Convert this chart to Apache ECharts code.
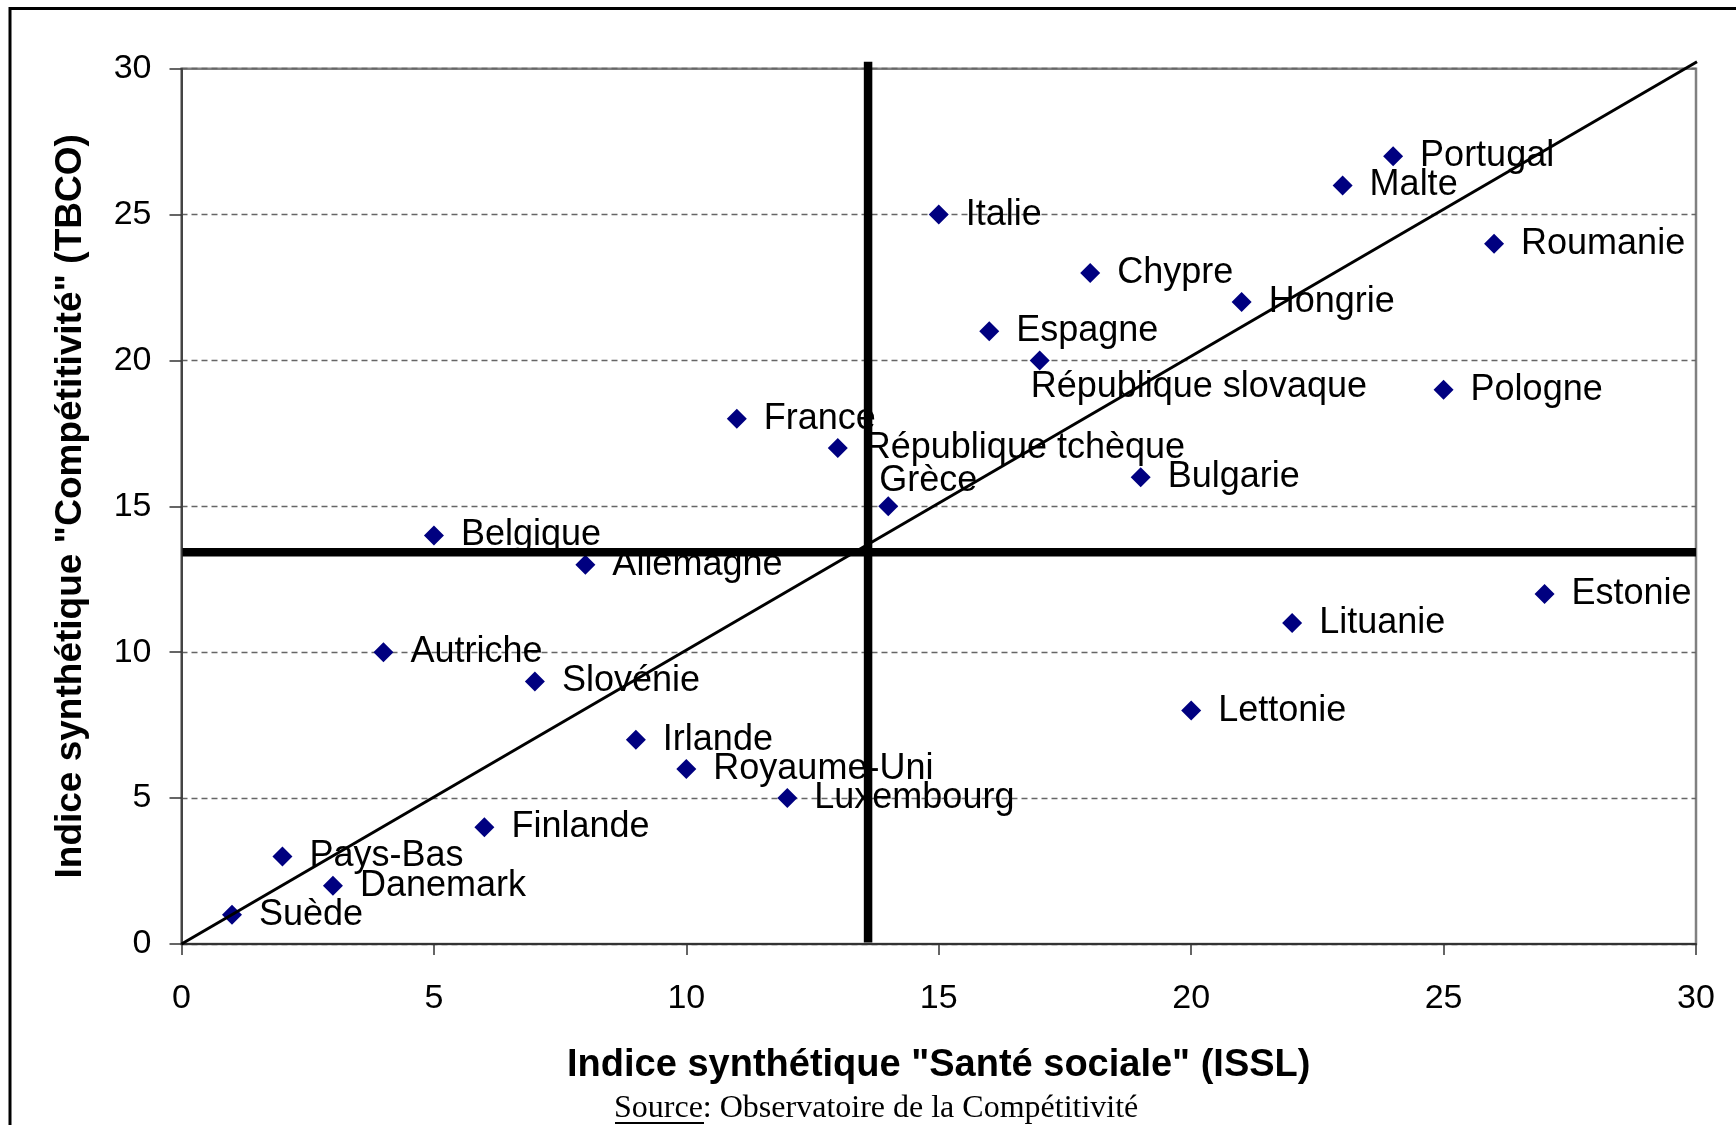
<!DOCTYPE html>
<html><head><meta charset="utf-8">
<script src="https://cdn.jsdelivr.net/npm/echarts@6/dist/echarts.min.js"></script>
<style>html,body{margin:0;padding:0;background:#fff}#c{width:1736px;height:1125px}</style>
</head><body><div id="c"></div>
<script>
// ---- data ----
const countries = ["Portugal","Malte","Italie","Roumanie","Chypre","Hongrie","Espagne","République slovaque","Pologne","France","République tchèque","Bulgarie","Grèce","Belgique","Allemagne","Estonie","Lituanie","Autriche","Slovénie","Lettonie","Irlande","Royaume-Uni","Luxembourg","Finlande","Pays-Bas","Danemark","Suède"];
const issl = [24,23,15,26,18,21,16,17,25,11,13,19,14,5,8,27,22,4,7,20,9,10,12,6,2,3,1];
const tbco = [27,26,25,24,23,22,21,20,19,18,17,16,15,14,13,12,11,10,9,8,7,6,5,4,3,2,1];
const axisTicks = [0,5,10,15,20,25,30];
const medianIssl = 13.6;   // vertical separator
const medianTbco = 13.43;  // horizontal separator
const diagonal = [[0,0],[30.02,30.24]];
const xTitle = 'Indice synthétique "Santé sociale" (ISSL)';
const yTitle = 'Indice synthétique "Compétitivité" (TBCO)';

// ---- label tweaks (style, not data) ----
const labelOffsets = { "République slovaque": [-36, 27], "Grèce": [-36, -25] };

const points = countries.map((c, i) => {
  const p = { name: c, value: [issl[i], tbco[i]] };
  if (labelOffsets[c]) p.label = { offset: labelOffsets[c] };
  return p;
});

const sans = '"Liberation Sans", Arial, sans-serif';
const chart = echarts.init(document.getElementById('c'), null, { renderer: 'canvas' });
chart.setOption({
  animation: false,
  backgroundColor: '#fff',
  grid: { left: 181.5, right: 40, top: 68.7, bottom: 181, show: true, borderColor: '#808080', borderWidth: 2.5, backgroundColor: 'transparent' },
  xAxis: {
    type: 'value', min: axisTicks[0], max: axisTicks[axisTicks.length - 1], interval: 5,
    name: xTitle, nameLocation: 'middle', nameGap: 103,
    nameTextStyle: { fontFamily: sans, fontWeight: 'bold', fontSize: 38, color: '#000' },
    axisLine: { show: true, lineStyle: { color: '#333', width: 2 } },
    axisTick: { show: true, length: 11, lineStyle: { color: '#333', width: 1.5 } },
    axisLabel: { fontFamily: sans, fontSize: 34, color: '#000', margin: 38 },
    splitLine: { show: false }
  },
  yAxis: {
    type: 'value', min: axisTicks[0], max: axisTicks[axisTicks.length - 1], interval: 5,
    name: yTitle, nameLocation: 'middle', nameGap: 92, nameRotate: 90,
    nameTextStyle: { fontFamily: sans, fontWeight: 'bold', fontSize: 37, color: '#000' },
    axisLine: { show: true, lineStyle: { color: '#444', width: 2 } },
    axisTick: { show: true, length: 12, lineStyle: { color: '#333', width: 1.5 } },
    axisLabel: { fontFamily: sans, fontSize: 34, color: '#000', margin: 30 },
    splitLine: { show: true, lineStyle: { color: '#666', width: 1.3, type: [6, 4] } }
  },
  series: [
    {
      type: 'scatter', z: 2, symbol: 'diamond', symbolSize: 20,
      itemStyle: { color: '#000080', opacity: 1 },
      label: { show: true, position: 'right', distance: 17, formatter: '{b}',
               fontFamily: sans, fontSize: 36, color: '#000' },
      data: points
    },
    { type: 'line', z: 3, clip: false, symbol: 'none', silent: true,
      lineStyle: { color: '#000', width: 3 }, data: diagonal },
    { type: 'line', z: 3, clip: false, symbol: 'none', silent: true,
      lineStyle: { color: '#000', width: 8.5, cap: 'butt' },
      data: [[medianIssl, 0.05], [medianIssl, 30.24]] },
    { type: 'line', z: 3, clip: false, symbol: 'none', silent: true,
      lineStyle: { color: '#000', width: 8.5, cap: 'butt' },
      data: [[0.02, medianTbco], [30, medianTbco]] }
  ],
  graphic: [
    { type: 'rect', z: -10, shape: { x: 10, y: 8.5, width: 1900, height: 1300 },
      style: { fill: 'none', stroke: '#000', lineWidth: 3 } },
    { type: 'text', left: 614, top: 1093,
      style: { text: 'Source: Observatoire de la Compétitivité', font: '32px "Liberation Serif", "Times New Roman", serif', fill: '#000' } },
    { type: 'line', shape: { x1: 615, y1: 1123, x2: 704, y2: 1123 }, style: { stroke: '#000', lineWidth: 2 } }
  ]
});
</script></body></html>
